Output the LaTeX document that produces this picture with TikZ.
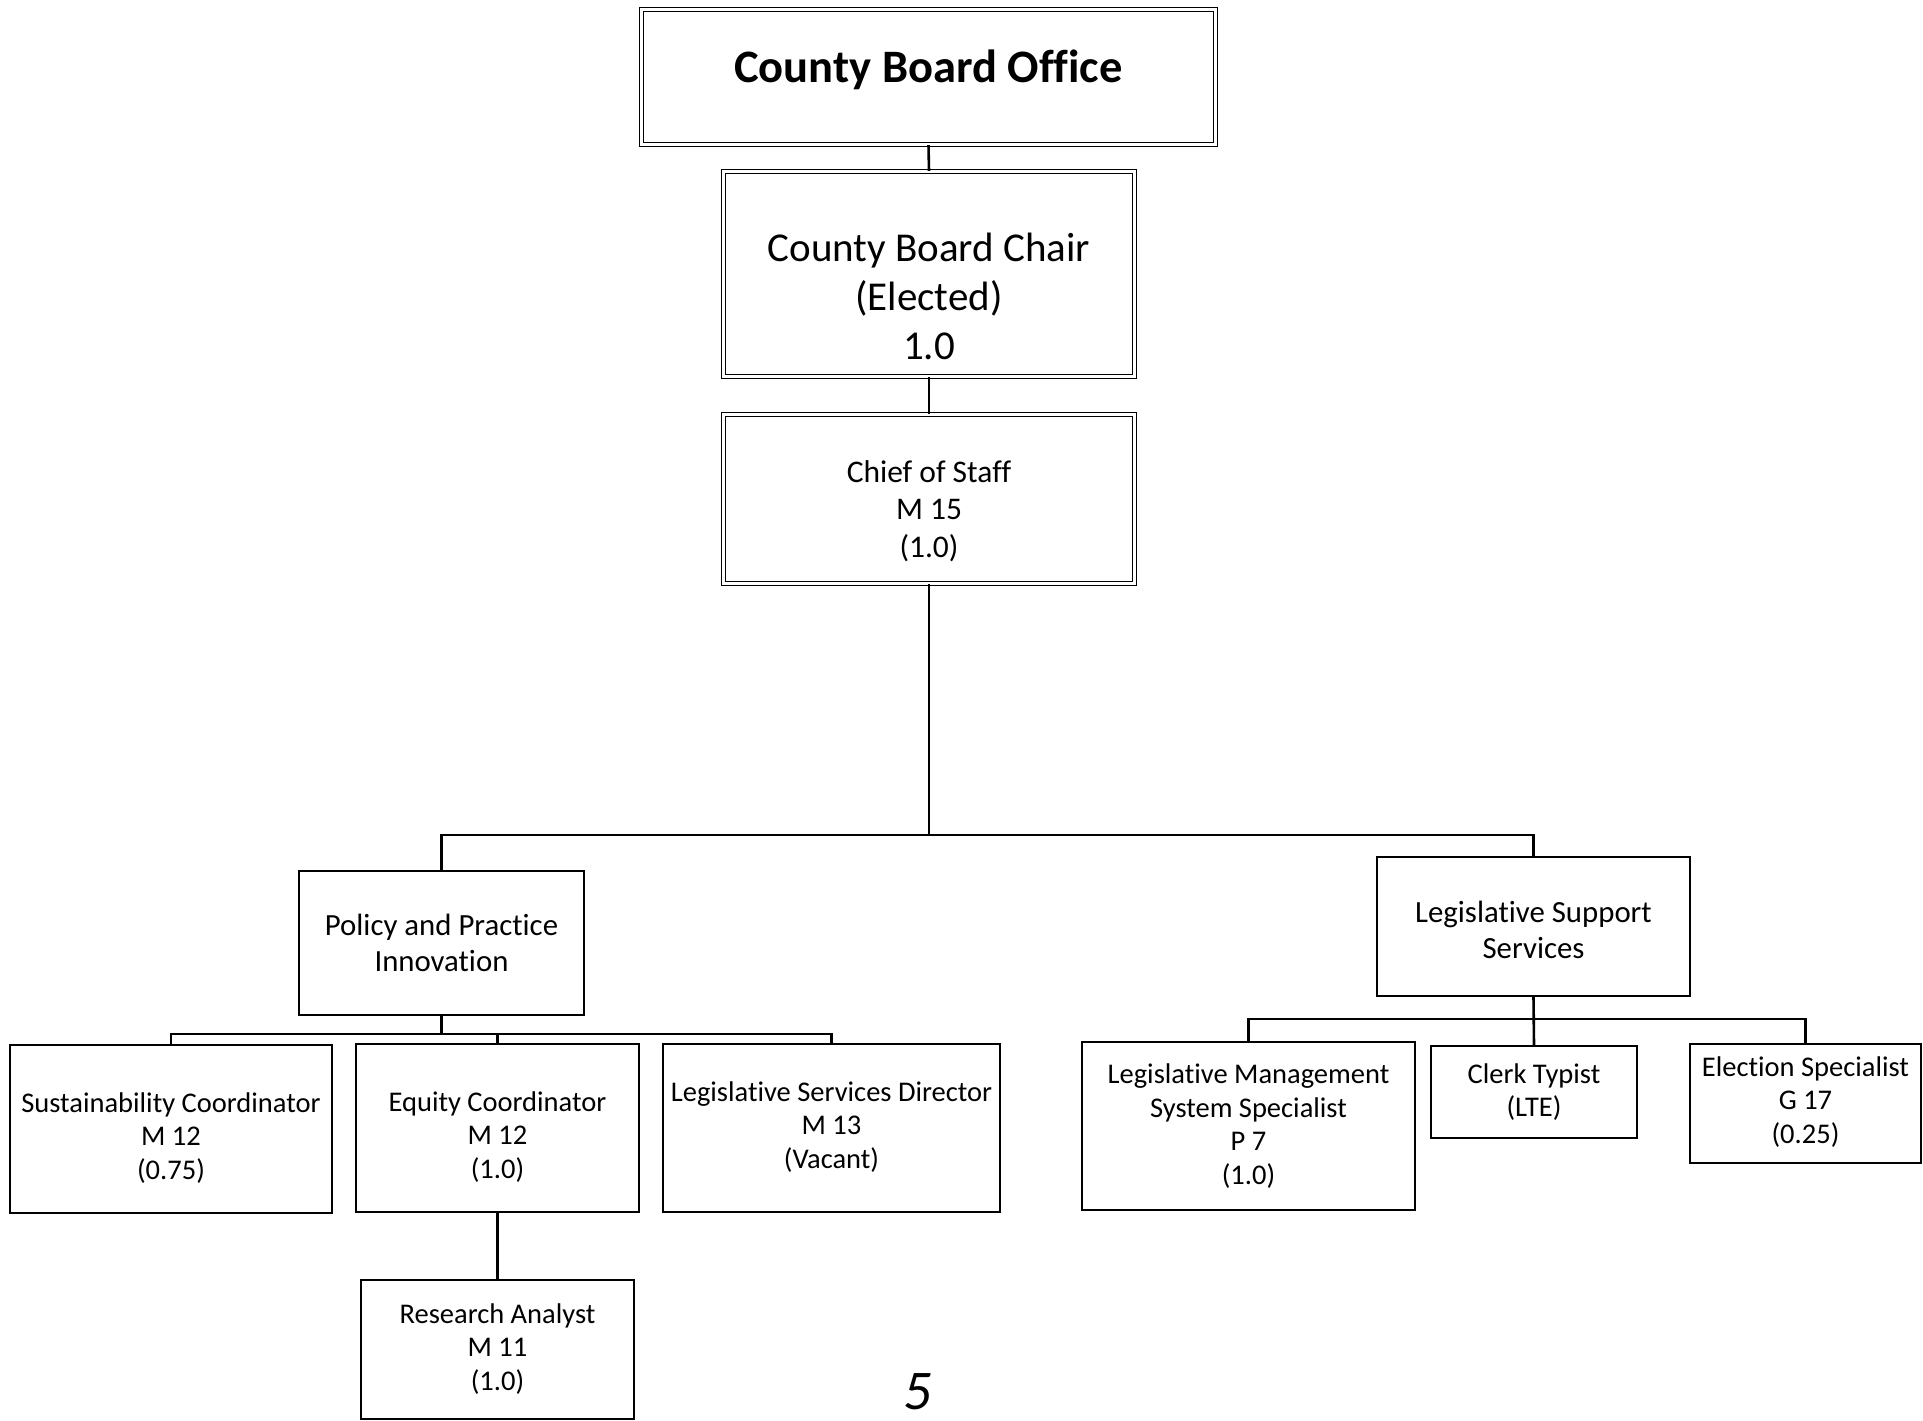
\documentclass[tikz,border=0pt]{standalone}
\usepackage{fontspec}
\setmainfont{Carlito}[Ligatures=NoCommon]
\begin{document}
\begin{tikzpicture}[x=1pt,y=-1pt,
  box/.style={draw=black,line width=1.6pt,rectangle,inner sep=0pt},
  dbox/.style={draw=black,line width=1.2pt,double,double distance=2.4pt,rectangle,inner sep=0pt},
  conn/.style={draw=black,line width=2.6pt},
  txt/.style={align=center,inner sep=0pt,text=black},
  small/.style={txt,font=\fontsize{28.5}{33.7}\selectfont},
  mid/.style={txt,font=\fontsize{30.8}{36.5}\selectfont}]
\useasboundingbox[fill=white] (0,0) rectangle (1923,1421);
% top boxes
\node[dbox,minimum width=574pt,minimum height=135pt] (cbo) at (928.5,77) {};
\node[txt,font=\fontsize{46.5}{55}\selectfont\bfseries] (cbot) at (928.5,70) {County Board Office};
\node[dbox,minimum width=411pt,minimum height=205pt] (chair) at (929,274) {};
\node[txt,font=\fontsize{41}{49}\selectfont] (chairt) at (929,296) {County Board Chair\\(Elected)\\1.0};
\node[dbox,minimum width=411pt,minimum height=169pt] (chief) at (929,499) {};
\node[txt,font=\fontsize{31.5}{37.4}\selectfont] (chieft) at (929,511) {Chief of Staff\\M 15\\(1.0)};
% second level
\node[box,minimum width=285pt,minimum height=144pt] (policy) at (441.5,943) {};
\node[mid] (policyt) at (441.5,943) {Policy and Practice\\Innovation};
\node[box,minimum width=313pt,minimum height=139pt] (lss) at (1533.5,926.5) {};
\node[mid] (lsst) at (1533.5,930) {Legislative Support\\Services};
% third level left
\node[box,minimum width=322pt,minimum height=168pt] (sust) at (171,1129) {};
\node[small] (sustt) at (171,1138) {Sustainability Coordinator\\M 12\\(0.75)};
\node[box,minimum width=283pt,minimum height=168pt] (equity) at (497.5,1128) {};
\node[small] (equityt) at (497.5,1137) {Equity Coordinator\\M 12\\(1.0)};
\node[box,minimum width=337pt,minimum height=168pt] (lsd) at (831.5,1128) {};
\node[small] (lsdt) at (831.5,1127) {Legislative Services Director\\M 13\\(Vacant)};
\node[box,minimum width=273pt,minimum height=139pt] (ra) at (497.5,1349.5) {};
\node[small] (rat) at (497.5,1349) {Research Analyst\\M 11\\(1.0)};
% third level right
\node[box,minimum width=333pt,minimum height=168pt] (lmss) at (1248.5,1126) {};
\node[small] (lmsst) at (1248.5,1126) {Legislative Management\\System Specialist\\P 7\\(1.0)};
\node[box,minimum width=206pt,minimum height=92pt] (clerk) at (1534,1092) {};
\node[small] (clerkt) at (1534,1092) {Clerk Typist\\(LTE)};
\node[box,minimum width=231pt,minimum height=119pt] (elec) at (1805.5,1103.5) {};
\node[small] (elect) at (1805.5,1102) {Election Specialist\\G 17\\(0.25)};
% page number
\node[txt,font=\fontsize{56}{56}\selectfont\itshape] (pg) at (918,1392) {5};
% connectors
\coordinate (bar1) at (929,835);
\coordinate (bar2) at (441.5,1034);
\coordinate (bar3) at (1533.5,1019);
\draw[conn] (cbo.south) -- (chair.north);
\draw[conn] (chair.south) -- (chief.north);
\draw[conn] (chief.south) -- (bar1);
\draw[conn] (policy.north) |- (bar1) -| (lss.north);
\draw[conn] (policy.south) -- (bar2);
\draw[conn] (sust.north) |- (bar2) -| (lsd.north);
\draw[conn] (equity.north) -- (equity.north |- bar2);
\draw[conn] (equity.south) -- (ra.north);
\draw[conn] (lss.south) -- (clerk.north);
\draw[conn] (lmss.north) |- (bar3) -| (elec.north);
\end{tikzpicture}
\end{document}
